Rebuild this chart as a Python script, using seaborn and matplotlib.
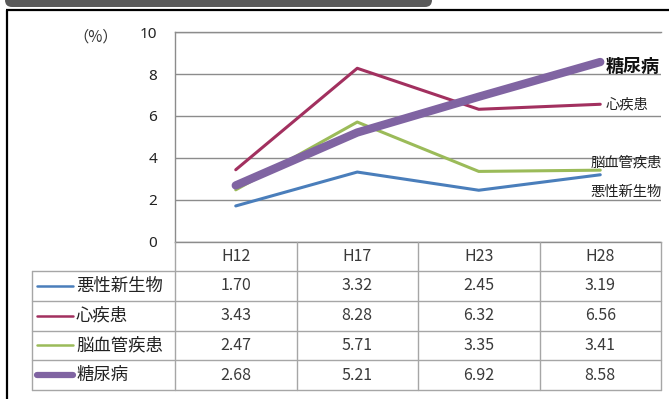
import numpy as np
import pandas as pd
import matplotlib
matplotlib.use("Agg")
import matplotlib.pyplot as plt
import seaborn as sns
from matplotlib.patches import FancyBboxPatch

# ---- data -------------------------------------------------------------
periods = ["H12", "H17", "H23", "H28"]
diseases = ["悪性新生物", "心疾患", "脳血管疾患", "糖尿病"]
malignant = [1.70, 3.32, 2.45, 3.19]
heart = [3.43, 8.28, 6.32, 6.56]
cerebro = [2.47, 5.71, 3.35, 3.41]
diabetes = [2.68, 5.21, 6.92, 8.58]
yticks = [0, 2, 4, 6, 8, 10]
unit_label = "（%）"

series = dict(zip(diseases, [malignant, heart, cerebro, diabetes]))

colors = {"悪性新生物": "#4a7ebb", "心疾患": "#a2305f",
          "脳血管疾患": "#9bbb59", "糖尿病": "#8064a2"}
line_w = {"悪性新生物": 2.2, "心疾患": 2.2, "脳血管疾患": 2.2, "糖尿病": 6.0}

df = pd.DataFrame([
    {"pos": i, "period": p, "disease": d, "value": v}
    for d in diseases for i, (p, v) in enumerate(zip(periods, series[d]))
])

# ---- figure -----------------------------------------------------------
sns.set_theme(style="white")
plt.rcParams["font.family"] = ["Noto Sans CJK JP", "DejaVu Sans"]

W, H = 669, 399
fig = plt.figure(figsize=(W / 100, H / 100), dpi=100)

# pixel-space overlay for frame, table and labels
ov = fig.add_axes([0, 0, 1, 1], zorder=3)
ov.set_xlim(0, W)
ov.set_ylim(H, 0)
ov.axis("off")
ov.patch.set_alpha(0)

# plot area
x0, x1 = 175, 661
y_top, y_bot = 32.3, 241.5
ax = fig.add_axes([x0 / W, 1 - y_bot / H, (x1 - x0) / W, (y_bot - y_top) / H], zorder=2)
ax.set_xlim(-0.5, 3.5)
ax.set_ylim(0, 10)
ax.set_yticks(yticks)
ax.set_yticklabels([str(t) for t in yticks], family=["Noto Sans", "DejaVu Sans"],
                   fontsize=11, color="#222222")
ax.tick_params(axis="y", length=0, pad=13)
ax.set_xticks([])
ax.grid(axis="y", color="#8c8c8c", linewidth=1.0)
for s in ["left", "top", "bottom"]:
    ax.spines[s].set_visible(True)
    ax.spines[s].set_color("#8c8c8c")
    ax.spines[s].set_linewidth(1.0)
ax.spines["right"].set_visible(False)
ax.patch.set_alpha(0)

sns.lineplot(data=df, x="pos", y="value", hue="disease", hue_order=diseases,
             palette=colors, size="disease", size_order=diseases, sizes=line_w,
             legend=False, ax=ax, solid_capstyle="round", sort=False)
ax.set_xlabel("")
ax.set_ylabel("")

ov.text(96, 37, unit_label, fontsize=11, color="#333333", ha="center", va="center")

# series labels at the right end
ov.text(606, 66, "糖尿病", fontsize=13, fontweight="bold", color="#111111",
        ha="left", va="center")
ov.text(606, 105, "心疾患", fontsize=10.3, color="#222222", ha="left", va="center")
ov.text(662, 163, "脳血管疾患", fontsize=10.3, color="#222222", ha="right", va="center")
ov.text(662, 192, "悪性新生物", fontsize=10.3, color="#222222", ha="right", va="center")

# ---- frame and header bar ---------------------------------------------
ov.add_patch(FancyBboxPatch((5, -20), 427, 27,
                            boxstyle="round,pad=0,rounding_size=7",
                            facecolor="#595959", edgecolor="none"))
ov.plot([6, W], [10, 10], color="black", lw=1.6, solid_capstyle="butt")
ov.plot([7, 7], [10, H], color="black", lw=1.6, solid_capstyle="butt")

# ---- data table -------------------------------------------------------
tcol = "#a6a6a6"
col_b = [x0 + i * (x1 - x0) / 4 for i in range(5)]
row_b = [241.5, 271] + [271 + (i + 1) * 29.75 for i in range(4)]
tx0 = 32

for y in row_b[1:]:
    ov.plot([tx0, x1], [y, y], color=tcol, lw=1.0)
ov.plot([tx0, tx0], [row_b[1], row_b[-1]], color=tcol, lw=1.0)
for x in col_b:
    ov.plot([x, x], [row_b[0], row_b[-1]], color=tcol, lw=1.0)

num_font = dict(fontsize=11.5, color="#3a3a3a", ha="center", va="center")
for j, p in enumerate(periods):
    cx = (col_b[j] + col_b[j + 1]) / 2
    ov.text(cx, (row_b[0] + row_b[1]) / 2, p, **num_font)

for i, d in enumerate(diseases):
    cy = (row_b[i + 1] + row_b[i + 2]) / 2
    ov.plot([37, 73], [cy, cy], color=colors[d],
            lw=1.8 if d != "糖尿病" else 4.5, solid_capstyle="round")
    ov.text(76, cy, d, fontsize=12.5, color="#222222", ha="left", va="center")
    for j, v in enumerate(series[d]):
        cx = (col_b[j] + col_b[j + 1]) / 2
        ov.text(cx, cy, f"{v:.2f}", **num_font)

fig.savefig("out.png", dpi=100)
